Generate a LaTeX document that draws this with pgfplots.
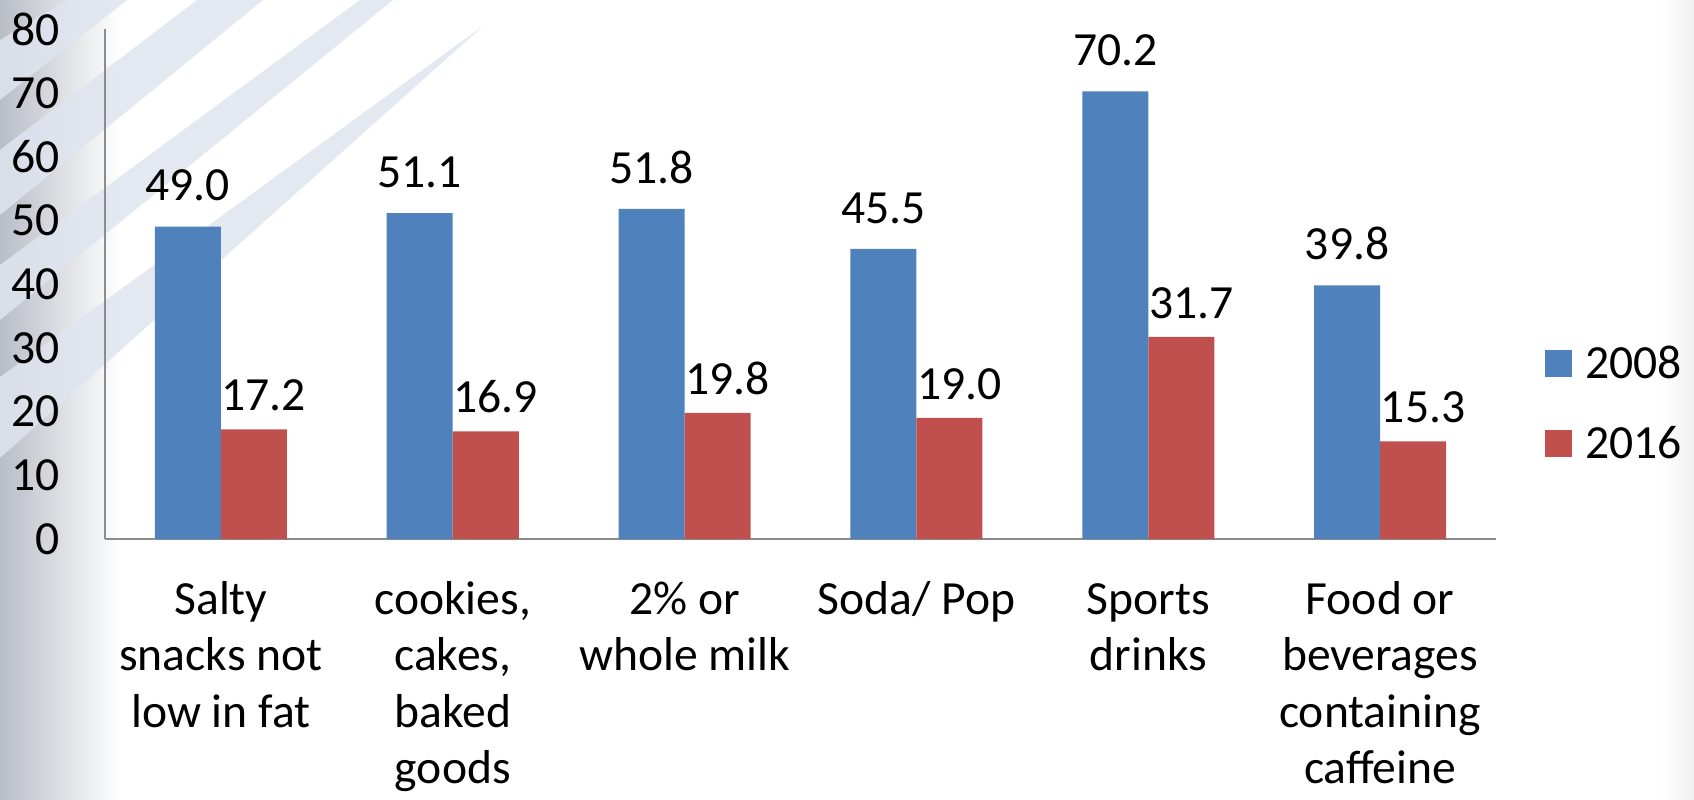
\documentclass[border=0pt]{standalone}
\usepackage{fontspec}
\setmainfont{Carlito}
\usepackage{pgfplots}
\pgfplotsset{compat=1.18}

\definecolor{bblue}{HTML}{4F81BD}
\definecolor{bred}{HTML}{C0504D}
\definecolor{stripe}{HTML}{DFE4EF}
\definecolor{edgegray}{HTML}{B9BDC6}
\definecolor{axgray}{HTML}{8C8C8C}

\newcommand{\chartfont}{\fontsize{23.8}{29}\selectfont}
\newcommand{\catfont}{\fontsize{23.8}{28.2}\selectfont}

\begin{document}
\begin{tikzpicture}[x=1pt,y=1pt]
% page, 1pt = 2px of the reference
\path[use as bounding box, fill=white] (0,0) rectangle (847,399.5);
\shade[left color=edgegray, right color=white] (0,0) rectangle (60,399.5);
\shade[left color=white, right color=gray!12] (830,0) rectangle (847,399.5);
% diagonal stripes, coordinates in reference pixels
\begin{scope}[x=0.5pt, y=-0.5pt, yshift=399.5pt]
  \fill[stripe, opacity=0.85] (67,0) -- (127,0) -- (0,100) -- (0,40) -- cycle;
  \fill[stripe, opacity=0.85] (197,0) -- (263,0) -- (0,215) -- (0,150) -- cycle;
  \fill[stripe, opacity=0.85] (360,0) -- (393,0) -- (0,320) -- (0,265) -- cycle;
  \fill[stripe, opacity=0.85] (483,26) -- (0,458) -- (0,377) -- cycle;
\end{scope}

\begin{axis}[
  at={(52.5pt,130pt)}, anchor=south west,
  scale only axis, width=695.5pt, height=255pt,
  ymin=0, ymax=80, ytick={0,10,...,80},
  xmin=-0.5, xmax=5.5, xtick={0,...,5},
  xticklabels={
    {\strut Salty\\snacks not\\low in fat},
    {\strut cookies,\\cakes,\\baked\\goods},
    {\strut 2\% or\\whole milk},
    {\strut Soda/ Pop},
    {\strut Sports\\drinks},
    {\strut Food or\\beverages\\containing\\caffeine}},
  axis lines=left,
  axis line style={axgray, line width=0.8pt, -},
  major tick length=0pt,
  /pgf/number format/assume math mode=true,
  tick label style={font=\chartfont},
  yticklabel style={anchor=east, inner sep=0pt, xshift=-22.5pt},
  xticklabel style={font=\catfont, anchor=north, inner sep=0pt, align=center, yshift=-17.8pt},
  ybar=0pt, bar width=33pt,
  nodes near coords={\pgfmathprintnumber[fixed,fixed zerofill,precision=1,assume math mode=true]{\pgfplotspointmeta}},
  nodes near coords style={font=\chartfont, anchor=south, inner sep=0pt},
  legend style={draw=none, fill=none, at={(1.0352,0.2657)}, anchor=west,
    inner sep=0pt, row sep=22.5pt, column sep=6.5pt, font=\chartfont,
    nodes={inner sep=0pt}},
  legend cell align=left,
  legend image code/.code={\fill[#1] (0pt,-6.75pt) rectangle (13.5pt,6.75pt);},
]
\addplot[fill=bblue, draw=none, every node near coord/.append style={yshift=12.5pt}]
  coordinates {(0,49.0) (1,51.1) (2,51.8) (3,45.5) (4,70.2) (5,39.8)};
\addplot[fill=bred, draw=none, every node near coord/.append style={yshift=9pt, xshift=5pt}]
  coordinates {(0,17.2) (1,16.9) (2,19.8) (3,19.0) (4,31.7) (5,15.3)};
\legend{2008,2016}
\end{axis}
\end{tikzpicture}
\end{document}
